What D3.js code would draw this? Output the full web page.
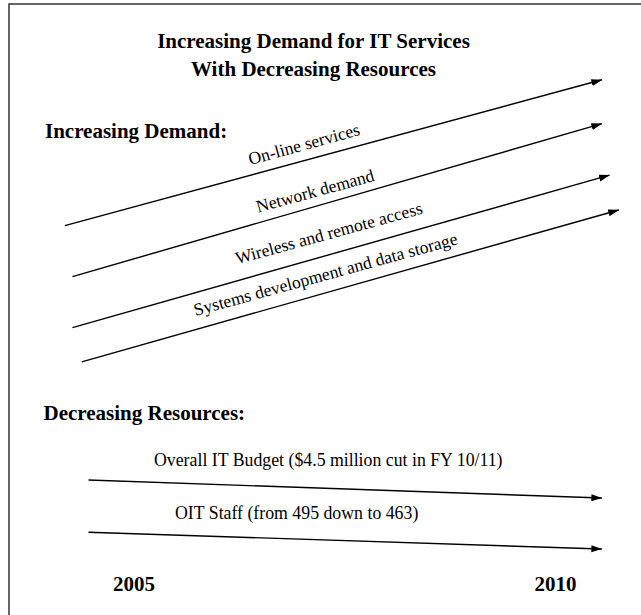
<!DOCTYPE html>
<html>
<head>
<meta charset="utf-8">
<script src="https://cdn.jsdelivr.net/npm/d3@7"></script>
<style>
  html, body { margin: 0; padding: 0; background: #fff; }
  svg { display: block; }
  text { font-family: "Liberation Serif", "Times New Roman", serif; fill: #000; }
</style>
</head>
<body>
<div id="chart"></div>
<script>
// ---- Data ----
const titleLines = ["Increasing Demand for IT Services", "With Decreasing Resources"];
const sectionTitles = ["Increasing Demand:", "Decreasing Resources:"];
const yearTicks = [2005, 2010];

// Increasing demand trends (x in years, y on a relative 0-100 level scale)
const demandLabels = ["On-line services", "Network demand", "Wireless and remote access", "Systems development and data storage"];
const demandStartYear = [2004.18, 2004.27, 2004.27, 2004.38];
const demandEndYear   = [2010.55, 2010.55, 2010.64, 2010.75];
const demandStartLevel = [62.4, 53.9, 45.4, 39.7];
const demandEndLevel   = [86.7, 79.4, 70.8, 65.0];

// Decreasing resources trends
const resourceLabels = ["Overall IT Budget ($4.5 million cut in FY 10/11)", "OIT Staff (from 495 down to 463)"];
const resourceStartYear = [2004.46, 2004.46];
const resourceEndYear   = [2010.55, 2010.55];
const resourceStartLevel = [20.0, 11.3];
const resourceEndLevel   = [17.0, 8.5];

// ---- Layout (positions / styles, not data) ----
const W = 641, H = 615;
const demandLabelPos = [ {t: 0.453, off: 10}, {t: 0.466, off: 9}, {t: 0.488, off: 15}, {t: 0.463, off: 12} ];
const resourceLabelStart = [154, 175];
const resourceLabelGap = 16;

const svg = d3.select("#chart").append("svg").attr("width", W).attr("height", H);

const x = d3.scaleLinear().domain([2004, 2011]).range([49.7, 639.8]);
const y = d3.scaleLinear().domain([0, 100]).range([600, 0]);

// frame (top and left only)
svg.append("path")
  .attr("d", `M9,${H}L9,4L${W},4`)
  .attr("fill", "none").attr("stroke", "#333").attr("stroke-width", 1.5);

// arrow marker
svg.append("defs").append("marker")
  .attr("id", "ah").attr("markerUnits", "userSpaceOnUse")
  .attr("viewBox", "0 -4 11 8").attr("refX", 10.5).attr("refY", 0)
  .attr("markerWidth", 11).attr("markerHeight", 8).attr("orient", "auto")
  .append("path").attr("d", "M0,-3.5L11,0L0,3.5Z").attr("fill", "#000");

// titles
svg.selectAll("text.title").data(titleLines).join("text")
  .attr("class", "title")
  .attr("x", 313.5).attr("y", (d, i) => 48 + i * 27.5)
  .attr("text-anchor", "middle")
  .style("font-weight", "bold").style("font-size", "21px")
  .text(d => d);

svg.selectAll("text.section").data(sectionTitles).join("text")
  .attr("class", "section")
  .attr("x", (d, i) => i === 0 ? 45 : 43.5)
  .attr("y", (d, i) => i === 0 ? 137.5 : 420)
  .style("font-weight", "bold").style("font-size", "21px")
  .text(d => d);

// year tick labels
svg.selectAll("text.year").data(yearTicks).join("text")
  .attr("class", "year")
  .attr("x", d => x(d)).attr("y", 591)
  .attr("text-anchor", "middle")
  .style("font-weight", "bold").style("font-size", "21px")
  .text(d => d);

// demand arrows
const demand = demandLabels.map((label, i) => ({
  label,
  x1: x(demandStartYear[i]), y1: y(demandStartLevel[i]),
  x2: x(demandEndYear[i]),   y2: y(demandEndLevel[i]),
  pos: demandLabelPos[i]
}));

svg.selectAll("line.demand").data(demand).join("line")
  .attr("class", "demand")
  .attr("x1", d => d.x1).attr("y1", d => d.y1)
  .attr("x2", d => d.x2).attr("y2", d => d.y2)
  .attr("stroke", "#000").attr("stroke-width", 1.4)
  .attr("marker-end", "url(#ah)");

svg.selectAll("text.dlabel").data(demand).join("text")
  .attr("class", "dlabel")
  .attr("transform", d => {
    const dx = d.x2 - d.x1, dy = d.y2 - d.y1, len = Math.hypot(dx, dy);
    const nx = dy / len, ny = -dx / len; // normal pointing up-left
    const cx = d.x1 + dx * d.pos.t + nx * d.pos.off;
    const cy = d.y1 + dy * d.pos.t + ny * d.pos.off;
    return `translate(${cx},${cy}) rotate(-15.3)`;
  })
  .attr("text-anchor", "middle")
  .style("font-size", "17.6px")
  .text(d => d.label);

// resource arrows
const resources = resourceLabels.map((label, i) => ({
  label,
  x1: x(resourceStartYear[i]), y1: y(resourceStartLevel[i]),
  x2: x(resourceEndYear[i]),   y2: y(resourceEndLevel[i]),
  lx: resourceLabelStart[i]
}));

svg.selectAll("line.res").data(resources).join("line")
  .attr("class", "res")
  .attr("x1", d => d.x1).attr("y1", d => d.y1)
  .attr("x2", d => d.x2).attr("y2", d => d.y2)
  .attr("stroke", "#000").attr("stroke-width", 1.4)
  .attr("marker-end", "url(#ah)");

svg.selectAll("text.rlabel").data(resources).join("text")
  .attr("class", "rlabel")
  .attr("x", d => d.lx)
  .attr("y", d => d.y1 + (d.y2 - d.y1) * (d.lx - d.x1) / (d.x2 - d.x1) - resourceLabelGap)
  .style("font-size", "17.8px")
  .text(d => d.label);
</script>
</body>
</html>
